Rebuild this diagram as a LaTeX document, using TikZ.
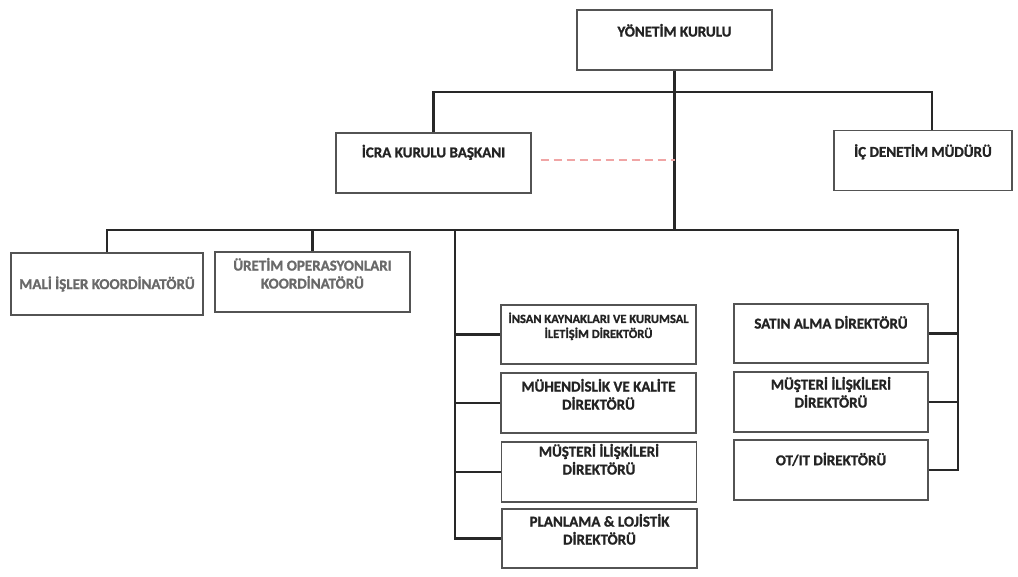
\documentclass[tikz,border=0pt]{standalone}
\usepackage{fontspec}
\setmainfont{Carlito}[BoldFeatures={FakeBold=1.2}]
\usetikzlibrary{calc}
\definecolor{orgline}{RGB}{40,40,40}
\definecolor{orgtext}{RGB}{35,35,35}
\definecolor{orgfade}{RGB}{105,105,105}
\definecolor{orgdash}{RGB}{240,165,165}

\tikzset{
  orgbox/.style={draw=orgline!80, line width=1.4pt, minimum width=195pt, minimum height=60pt, inner sep=0pt},
  orglabel/.style={font=\fontsize{15}{18}\selectfont\bfseries, text=orgtext, align=center, inner sep=0pt},
  orglink/.style={draw=orgline, line width=2.4pt},
}

\begin{document}
\begin{tikzpicture}[x=1pt,y=-1pt]
    \useasboundingbox (0,0) rectangle (1018,576);

    % top level
    \node[orgbox] (yk) at (674.5,40) {};
    \node[orglabel] (yk-t) at ($(yk.north)+(0,21)$) {YÖNETİM KURULU};

    % second level
    \node[orgbox] (icra) at (433.5,163) {};
    \node[orglabel] (icra-t) at ($(icra.north)+(0,20)$) {İCRA KURULU BAŞKANI};
    \node[orgbox, minimum width=178pt] (icden) at (923,160.5) {};
    \node[orglabel] (icden-t) at ($(icden.north)+(0,22)$) {İÇ DENETİM MÜDÜRÜ};

    % coordinators
    \node[orgbox, minimum width=192pt, minimum height=62pt] (mali) at (107,284) {};
    \node[orglabel, text=orgfade] (mali-t) at (mali.center) {MALİ İŞLER KOORDİNATÖRÜ};
    \node[orgbox] (uretim) at (312.5,282) {};
    \node[orglabel, text=orgfade] (uretim-t) at ($(uretim.north)+(0,22)$) {ÜRETİM OPERASYONLARI\\KOORDİNATÖRÜ};

    % left directors
    \node[orgbox, minimum height=59pt] (ik) at (598.5,334.5) {};
    \node[orglabel, font=\fontsize{12.5}{15}\selectfont\bfseries] (ik-t) at ($(ik.north)+(0,22)$) {İNSAN KAYNAKLARI VE KURUMSAL\\İLETİŞİM DİREKTÖRÜ};
    \node[orgbox] (muh) at (598.5,403) {};
    \node[orglabel] (muh-t) at ($(muh.north)+(0,22)$) {MÜHENDİSLİK VE KALİTE\\DİREKTÖRÜ};
    \node[orgbox] (mus1) at (599,472) {};
    \node[orglabel] (mus1-t) at ($(mus1.north)+(0,18)$) {MÜŞTERİ İLİŞKİLERİ\\DİREKTÖRÜ};
    \node[orgbox, minimum height=59pt] (plan) at (599.5,538.5) {};
    \node[orglabel] (plan-t) at ($(plan.north)+(0,21)$) {PLANLAMA \& LOJİSTİK\\DİREKTÖRÜ};

    % right directors
    \node[orgbox, minimum width=194pt, minimum height=59pt] (satin) at (831,333.5) {};
    \node[orglabel] (satin-t) at ($(satin.north)+(0,19)$) {SATIN ALMA DİREKTÖRÜ};
    \node[orgbox, minimum width=194pt] (mus2) at (831,402) {};
    \node[orglabel] (mus2-t) at ($(mus2.north)+(0,21)$) {MÜŞTERİ İLİŞKİLERİ\\DİREKTÖRÜ};
    \node[orgbox, minimum width=194pt] (otit) at (831,470) {};
    \node[orglabel] (otit-t) at ($(otit.north)+(0,20)$) {OT/IT DİREKTÖRÜ};

    % bus points
    \coordinate (bus1) at (932,92);
    \coordinate (bus2l) at (107,230);
    \coordinate (bus2r) at (958,230);
    \coordinate (cbus) at (455,230);

    % connectors
    \draw[orglink] (yk.south) -- (yk.south |- bus2r);
    \draw[orglink] (icra.north) -- (icra.north |- bus1) -- (bus1) -- (bus1 |- icden.north);
    \draw[orglink] (mali.north) -- (bus2l) -- (bus2r) -- (bus2r |- otit.east) -- (otit.east);
    \draw[orglink] (uretim.north) -- (uretim.north |- bus2r);
    \draw[orglink] (cbus) |- (plan.west);
    \draw[orglink] (ik.west) -- (ik.west -| cbus);
    \draw[orglink] (muh.west) -- (muh.west -| cbus);
    \draw[orglink] (mus1.west) -- (mus1.west -| cbus);
    \draw[orglink] (satin.east) -- (satin.east -| bus2r);
    \draw[orglink] (mus2.east) -- (mus2.east -| bus2r);

    % dashed link
    \draw[orgdash, line width=1.4pt, dash pattern=on 8pt off 5pt, shorten <=9pt] ($(icra.east)+(0,-3)$) -- ($(icra.east -| yk.south)+(0,-3)$);
\end{tikzpicture}
\end{document}
